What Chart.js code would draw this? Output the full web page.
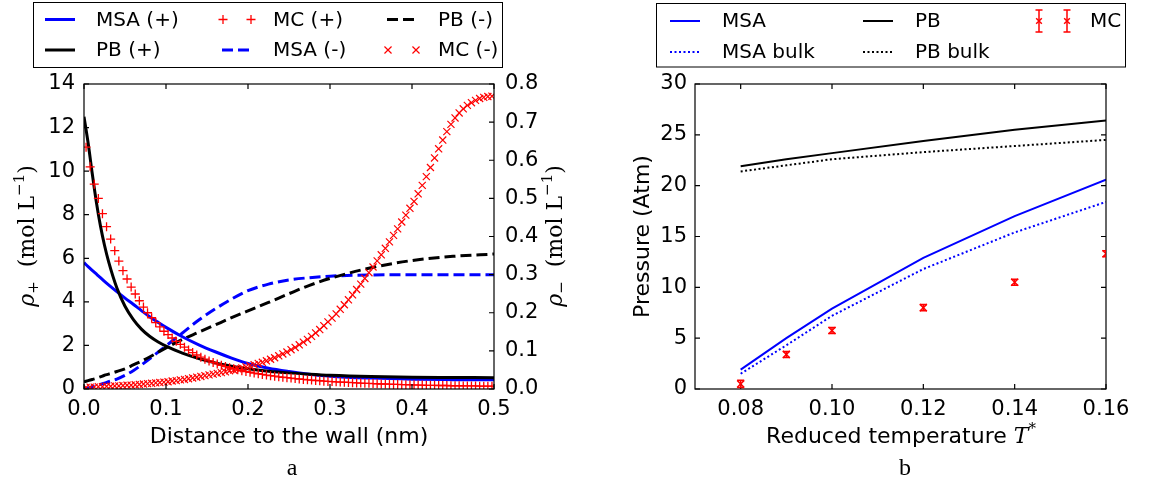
<!DOCTYPE html>
<html>
<head>
<meta charset="utf-8">
<script src="https://cdn.jsdelivr.net/npm/chart.js@4.4.1/dist/chart.umd.min.js"></script>
<style>
  html, body { margin: 0; padding: 0; background: #fff; }
  #wrap { position: relative; width: 1153px; height: 488px; }
  canvas { position: absolute; top: 0; }
  #left { left: 0; }
  #right { left: 576px; }
</style>
</head>
<body>
<div id="wrap">
  <canvas id="left" width="576" height="488"></canvas>
  <canvas id="right" width="577" height="488"></canvas>
</div>
<script>
// ---- Panel a: ion densities next to the wall ----
const distLine = [0, 0.005, 0.01, 0.015, 0.02, 0.025, 0.03, 0.04, 0.05, 0.06, 0.07, 0.08, 0.09, 0.1,
  0.12, 0.14, 0.16, 0.18, 0.2, 0.225, 0.25, 0.275, 0.3, 0.35, 0.4, 0.45, 0.5];
const msaPlus = [5.8, 5.62, 5.45, 5.28, 5.11, 4.94, 4.78, 4.47, 4.17, 3.89, 3.6, 3.32, 3.07, 2.83,
  2.4, 2.03, 1.71, 1.42, 1.17, 0.95, 0.8, 0.68, 0.59, 0.5, 0.45, 0.43, 0.42];
const pbPlus = [12.5, 11.3, 9.9, 8.6, 7.5, 6.6, 5.85, 4.65, 3.8, 3.2, 2.75, 2.42, 2.17, 1.97,
  1.65, 1.4, 1.2, 1.05, 0.93, 0.82, 0.74, 0.68, 0.63, 0.57, 0.54, 0.53, 0.52];
const msaMinus = [0.002, 0.003, 0.006, 0.009, 0.012, 0.015, 0.019, 0.026, 0.036, 0.048, 0.063, 0.079, 0.096, 0.113,
  0.147, 0.181, 0.21, 0.236, 0.258, 0.275, 0.286, 0.292, 0.296, 0.299, 0.3, 0.3, 0.3];
const pbMinus = [0.019, 0.022, 0.025, 0.028, 0.032, 0.036, 0.039, 0.046, 0.053, 0.063, 0.073, 0.084, 0.096, 0.108,
  0.13, 0.149, 0.168, 0.187, 0.205, 0.227, 0.25, 0.272, 0.29, 0.318, 0.337, 0.348, 0.354];

const distMC = [
  0.0025, 0.0075, 0.0125, 0.0175, 0.0225, 0.0275, 0.0325, 0.0375, 0.0425, 0.0475,
  0.0525, 0.0575, 0.0625, 0.0675, 0.0725, 0.0775, 0.0825, 0.0875, 0.0925, 0.0975,
  0.1025, 0.1075, 0.1125, 0.1175, 0.1225, 0.1275, 0.1325, 0.1375, 0.1425, 0.1475,
  0.1525, 0.1575, 0.1625, 0.1675, 0.1725, 0.1775, 0.1825, 0.1875, 0.1925, 0.1975,
  0.2025, 0.2075, 0.2125, 0.2175, 0.2225, 0.2275, 0.2325, 0.2375, 0.2425, 0.2475,
  0.2525, 0.2575, 0.2625, 0.2675, 0.2725, 0.2775, 0.2825, 0.2875, 0.2925, 0.2975,
  0.3025, 0.3075, 0.3125, 0.3175, 0.3225, 0.3275, 0.3325, 0.3375, 0.3425, 0.3475,
  0.3525, 0.3575, 0.3625, 0.3675, 0.3725, 0.3775, 0.3825, 0.3875, 0.3925, 0.3975,
  0.4025, 0.4075, 0.4125, 0.4175, 0.4225, 0.4275, 0.4325, 0.4375, 0.4425, 0.4475,
  0.4525, 0.4575, 0.4625, 0.4675, 0.4725, 0.4775, 0.4825, 0.4875, 0.4925, 0.4975];
const mcPlus = [
  11.1, 10.2, 9.4, 8.75, 8.05, 7.45, 6.88, 6.35, 5.87, 5.43,
  5.05, 4.68, 4.36, 4.05, 3.76, 3.5, 3.27, 3.05, 2.85, 2.65,
  2.5, 2.34, 2.19, 2.05, 1.92, 1.79, 1.67, 1.56, 1.46, 1.37,
  1.29, 1.22, 1.15, 1.09, 1.03, 0.98, 0.93, 0.88, 0.84, 0.8,
  0.77, 0.73, 0.7, 0.67, 0.64, 0.61, 0.59, 0.56, 0.54, 0.52,
  0.5, 0.48, 0.46, 0.44, 0.42, 0.41, 0.39, 0.38, 0.36, 0.35,
  0.34, 0.33, 0.32, 0.31, 0.3, 0.29, 0.28, 0.27, 0.26, 0.26,
  0.25, 0.24, 0.23, 0.23, 0.22, 0.21, 0.21, 0.2, 0.2, 0.19,
  0.19, 0.18, 0.18, 0.17, 0.17, 0.17, 0.16, 0.16, 0.16, 0.15,
  0.15, 0.15, 0.14, 0.14, 0.14, 0.14, 0.13, 0.13, 0.13, 0.13];
const mcMinus = [
  0.004, 0.005, 0.005, 0.006, 0.006, 0.007, 0.007, 0.008, 0.008, 0.009,
  0.01, 0.01, 0.011, 0.012, 0.013, 0.014, 0.015, 0.016, 0.017, 0.018,
  0.019, 0.021, 0.022, 0.024, 0.025, 0.027, 0.029, 0.031, 0.033, 0.035,
  0.037, 0.039, 0.041, 0.043, 0.045, 0.048, 0.05, 0.053, 0.055, 0.058,
  0.061, 0.064, 0.067, 0.07, 0.074, 0.078, 0.082, 0.087, 0.092, 0.097,
  0.103, 0.109, 0.116, 0.123, 0.13, 0.138, 0.147, 0.156, 0.166, 0.176,
  0.186, 0.197, 0.209, 0.221, 0.234, 0.247, 0.261, 0.275, 0.29, 0.305,
  0.32, 0.336, 0.352, 0.369, 0.386, 0.403, 0.42, 0.438, 0.456, 0.474,
  0.492, 0.512, 0.534, 0.557, 0.581, 0.606, 0.63, 0.653, 0.675, 0.694,
  0.711, 0.724, 0.735, 0.744, 0.751, 0.757, 0.762, 0.765, 0.767, 0.768];

const distTicks = [0, 0.1, 0.2, 0.3, 0.4, 0.5];
const rhoPlusTicks = [0, 2, 4, 6, 8, 10, 12, 14];
const rhoMinusTicks = [0, 0.1, 0.2, 0.3, 0.4, 0.5, 0.6, 0.7, 0.8];

// ---- Panel b: pressure against reduced temperature ----
const temps = [0.08, 0.09, 0.10, 0.12, 0.14, 0.16];
const msaP = [1.9, 5.0, 7.9, 12.9, 17.0, 20.6];
const msaBulkP = [1.5, 4.3, 7.2, 11.8, 15.4, 18.4];
const pbP = [21.9, 22.6, 23.2, 24.4, 25.5, 26.4];
const pbBulkP = [21.4, 22.0, 22.6, 23.3, 23.9, 24.5];
const mcP = [0.5, 3.4, 5.75, 8.0, 10.5, 13.3];
const mcErr = [0.35, 0.3, 0.3, 0.3, 0.3, 0.3];

const tempTicks = [0.08, 0.10, 0.12, 0.14, 0.16];
const pressureTicks = [0, 5, 10, 15, 20, 25, 30];

const RED = '#ff0000', BLUE = '#0000ff', BLACK = '#000000';

Chart.defaults.font.family = '"DejaVu Sans", sans-serif';
Chart.defaults.color = '#000';

function pts(xs, ys) {
  return xs.map((x, i) => ({ x: x, y: ys[i] }));
}

function fixedTicks(list) {
  return scale => { scale.ticks = list.map(v => ({ value: v })); };
}

// frame round the plot area with inward ticks on every side
const framePlugin = {
  id: 'frame',
  afterDatasetsDraw(chart, args, opts) {
    const { ctx, chartArea: a, scales } = chart;
    const L = 5;
    ctx.save();
    ctx.strokeStyle = '#000';
    ctx.lineWidth = 1.2;
    ctx.setLineDash([]);
    ctx.strokeRect(a.left, a.top, a.right - a.left, a.bottom - a.top);
    ctx.beginPath();
    scales.x.ticks.forEach(t => {
      const px = scales.x.getPixelForValue(t.value);
      ctx.moveTo(px, a.bottom); ctx.lineTo(px, a.bottom - L);
      ctx.moveTo(px, a.top); ctx.lineTo(px, a.top + L);
    });
    scales.y.ticks.forEach(t => {
      const py = scales.y.getPixelForValue(t.value);
      ctx.moveTo(a.left, py); ctx.lineTo(a.left + L, py);
      if (opts.mirrorY) { ctx.moveTo(a.right, py); ctx.lineTo(a.right - L, py); }
    });
    if (scales.y2) {
      scales.y2.ticks.forEach(t => {
        const py = scales.y2.getPixelForValue(t.value);
        ctx.moveTo(a.right, py); ctx.lineTo(a.right - L, py);
      });
    }
    ctx.stroke();
    ctx.restore();
  }
};

// vertical error bars with caps for one dataset
const errorBarPlugin = {
  id: 'errorBars',
  afterDatasetsDraw(chart, args, opts) {
    if (!opts.errors) return;
    const { ctx, chartArea: a, scales } = chart;
    const ds = chart.data.datasets[opts.datasetIndex];
    ctx.save();
    ctx.beginPath();
    ctx.rect(a.left, a.top, a.right - a.left, a.bottom - a.top);
    ctx.clip();
    ctx.strokeStyle = ds.pointBorderColor;
    ctx.lineWidth = 1.5;
    ctx.beginPath();
    ds.data.forEach((p, i) => {
      const px = scales.x.getPixelForValue(p.x);
      const lo = scales.y.getPixelForValue(p.y - opts.errors[i]);
      const hi = scales.y.getPixelForValue(p.y + opts.errors[i]);
      ctx.moveTo(px, lo); ctx.lineTo(px, hi);
      ctx.moveTo(px - 3.5, lo); ctx.lineTo(px + 3.5, lo);
      ctx.moveTo(px - 3.5, hi); ctx.lineTo(px + 3.5, hi);
    });
    ctx.stroke();
    ctx.restore();
  }
};

// draws a mixed roman / italic / sub / sup label
function drawMath(ctx, parts, cx, cy, size, rotate) {
  const fontOf = p => {
    const small = p.s === 'sub' || p.s === 'sup';
    const fam = p.f || '"DejaVu Serif"';
    return (p.s === 'i' ? 'italic ' : '') + Math.round(small ? size * 0.7 : size) + 'px ' + fam;
  };
  ctx.save();
  ctx.translate(cx, cy);
  if (rotate) ctx.rotate(-Math.PI / 2);
  ctx.fillStyle = '#000';
  ctx.textBaseline = 'middle';
  ctx.textAlign = 'left';
  let total = 0;
  const widths = parts.map(p => { ctx.font = fontOf(p); const w = ctx.measureText(p.t).width; total += w; return w; });
  let x = -total / 2;
  parts.forEach((p, i) => {
    ctx.font = fontOf(p);
    const dy = p.s === 'sub' ? size * 0.28 : p.s === 'sup' ? -size * 0.36 : 0;
    ctx.fillText(p.t, x, dy);
    x += widths[i];
  });
  ctx.restore();
}

const labelsPlugin = {
  id: 'extraLabels',
  afterDraw(chart, args, opts) {
    const ctx = chart.ctx;
    (opts.math || []).forEach(m => drawMath(ctx, m.parts, m.x, m.y, m.size, m.rotate));
    if (opts.tag) {
      ctx.save();
      ctx.font = '24px "Liberation Serif", serif';
      ctx.fillStyle = '#000';
      ctx.textAlign = 'center';
      ctx.textBaseline = 'middle';
      ctx.fillText(opts.tag.text, opts.tag.x, opts.tag.y);
      ctx.restore();
    }
  }
};

// matplotlib-like boxed legend, laid out in columns
const boxLegendPlugin = {
  id: 'boxLegend',
  afterDraw(chart, args, opts) {
    const ctx = chart.ctx;
    const [bx, by, bw, bh] = opts.box;
    ctx.save();
    ctx.strokeStyle = '#000';
    ctx.lineWidth = 1;
    ctx.strokeRect(bx, by, bw, bh);
    ctx.font = '20px "DejaVu Sans"';
    ctx.textBaseline = 'middle';
    ctx.textAlign = 'left';
    opts.items.forEach(it => {
      const y = opts.rows[it.row];
      const x0 = opts.cols[it.col];
      const x1 = x0 + opts.sample;
      if (it.kind === 'line') {
        ctx.beginPath();
        ctx.setLineDash(it.dash || []);
        ctx.strokeStyle = it.color;
        ctx.lineWidth = it.width;
        ctx.moveTo(x0, y); ctx.lineTo(x1, y);
        ctx.stroke();
        ctx.setLineDash([]);
      } else {
        [x0 + 1, x1 - 1].forEach(px => {
          ctx.strokeStyle = it.color;
          ctx.fillStyle = it.color;
          if (it.err) {
            ctx.beginPath();
            ctx.lineWidth = 1.5;
            ctx.moveTo(px, y - it.err); ctx.lineTo(px, y + it.err);
            ctx.moveTo(px - 3.5, y - it.err); ctx.lineTo(px + 3.5, y - it.err);
            ctx.moveTo(px - 3.5, y + it.err); ctx.lineTo(px + 3.5, y + it.err);
            ctx.stroke();
          }
          ctx.lineWidth = it.lw;
          Chart.helpers.drawPoint(ctx, {
            pointStyle: it.style, radius: it.radius, borderWidth: it.lw
          }, px, y);
        });
      }
      ctx.fillStyle = '#000';
      ctx.fillText(it.text, x0 + opts.textGap, y + 1);
    });
    ctx.restore();
  }
};

const tickFont = { size: 21 };

// ---------- Panel a ----------
new Chart(document.getElementById('left').getContext('2d'), {
  type: 'scatter',
  data: {
    datasets: [
      { label: 'MC (+)', data: pts(distMC, mcPlus), yAxisID: 'y', showLine: false,
        pointStyle: 'cross', pointRadius: 4.5, pointBorderWidth: 1.3,
        pointBorderColor: RED, pointBackgroundColor: RED },
      { label: 'MC (-)', data: pts(distMC, mcMinus), yAxisID: 'y2', showLine: false,
        pointStyle: 'crossRot', pointRadius: 5, pointBorderWidth: 1.2,
        pointBorderColor: RED, pointBackgroundColor: RED },
      { label: 'PB (+)', data: pts(distLine, pbPlus), yAxisID: 'y', showLine: true,
        borderColor: BLACK, borderWidth: 3, pointRadius: 0, cubicInterpolationMode: 'monotone' },
      { label: 'MSA (+)', data: pts(distLine, msaPlus), yAxisID: 'y', showLine: true,
        borderColor: BLUE, borderWidth: 3, pointRadius: 0, cubicInterpolationMode: 'monotone' },
      { label: 'PB (-)', data: pts(distLine, pbMinus), yAxisID: 'y2', showLine: true,
        borderColor: BLACK, borderWidth: 3, borderDash: [11, 5], pointRadius: 0, cubicInterpolationMode: 'monotone' },
      { label: 'MSA (-)', data: pts(distLine, msaMinus), yAxisID: 'y2', showLine: true,
        borderColor: BLUE, borderWidth: 3, borderDash: [11, 5], pointRadius: 0, cubicInterpolationMode: 'monotone' }
    ]
  },
  options: {
    responsive: false,
    animation: false,
    devicePixelRatio: 1,
    layout: { padding: { top: 84, left: 0, right: 0, bottom: 0 } },
    plugins: {
      legend: { display: false },
      tooltip: { enabled: false },
      frame: { mirrorY: false },
      extraLabels: {
        math: [
          { parts: [{ t: 'ρ', s: 'i' }, { t: '+', s: 'sub' }, { t: '  (mol L', s: 'r' }, { t: '−1', s: 'sup' }, { t: ')', s: 'r' }],
            x: 28, y: 236, size: 22, rotate: true },
          { parts: [{ t: 'ρ', s: 'i' }, { t: '−', s: 'sub' }, { t: '  (mol L', s: 'r' }, { t: '−1', s: 'sup' }, { t: ')', s: 'r' }],
            x: 556, y: 236, size: 22, rotate: true }
        ],
        tag: { text: 'a', x: 292, y: 469 }
      },
      boxLegend: {
        box: [33.5, 2.5, 469, 65],
        rows: [19.5, 50],
        cols: [45, 222, 387],
        sample: 30,
        textGap: 51,
        items: [
          { row: 0, col: 0, kind: 'line', color: BLUE, width: 3, text: 'MSA (+)' },
          { row: 1, col: 0, kind: 'line', color: BLACK, width: 3, text: 'PB (+)' },
          { row: 0, col: 1, kind: 'marker', style: 'cross', radius: 4.5, lw: 1.3, color: RED, text: 'MC (+)' },
          { row: 1, col: 1, kind: 'line', color: BLUE, width: 3, dash: [11, 5], text: 'MSA (-)' },
          { row: 0, col: 2, kind: 'line', color: BLACK, width: 3, dash: [11, 5], text: 'PB (-)' },
          { row: 1, col: 2, kind: 'marker', style: 'crossRot', radius: 5, lw: 1.2, color: RED, text: 'MC (-)' }
        ]
      }
    },
    scales: {
      x: {
        type: 'linear', min: 0, max: 0.5,
        afterBuildTicks: fixedTicks(distTicks),
        afterFit: s => { s.height = 99; },
        grid: { display: false, drawTicks: false },
        border: { display: false },
        ticks: { font: tickFont, padding: 8, callback: v => v.toFixed(1) },
        title: { display: true, text: 'Distance to the wall (nm)', font: { size: 22 }, padding: { top: 0, bottom: 38 } }
      },
      y: {
        type: 'linear', position: 'left', min: 0, max: 14,
        afterBuildTicks: fixedTicks(rhoPlusTicks),
        afterFit: s => { s.width = 84; },
        grid: { display: false, drawTicks: false },
        border: { display: false },
        ticks: { font: tickFont, padding: 9 }
      },
      y2: {
        type: 'linear', position: 'right', min: 0, max: 0.8,
        afterBuildTicks: fixedTicks(rhoMinusTicks),
        afterFit: s => { s.width = 82; },
        grid: { display: false, drawTicks: false },
        border: { display: false },
        ticks: { font: tickFont, padding: 11, callback: v => v.toFixed(1) }
      }
    }
  },
  plugins: [framePlugin, labelsPlugin, boxLegendPlugin]
});

// ---------- Panel b ----------
new Chart(document.getElementById('right').getContext('2d'), {
  type: 'scatter',
  data: {
    datasets: [
      { label: 'MC', data: pts(temps, mcP), showLine: false,
        pointStyle: 'crossRot', pointRadius: 5, pointBorderWidth: 1.5,
        pointBorderColor: RED, pointBackgroundColor: RED },
      { label: 'MSA', data: pts(temps, msaP), showLine: true,
        borderColor: BLUE, borderWidth: 2, pointRadius: 0 },
      { label: 'MSA bulk', data: pts(temps, msaBulkP), showLine: true,
        borderColor: BLUE, borderWidth: 2, borderDash: [2, 2.5], pointRadius: 0 },
      { label: 'PB', data: pts(temps, pbP), showLine: true,
        borderColor: BLACK, borderWidth: 2, pointRadius: 0 },
      { label: 'PB bulk', data: pts(temps, pbBulkP), showLine: true,
        borderColor: BLACK, borderWidth: 2, borderDash: [2, 2.5], pointRadius: 0 }
    ]
  },
  options: {
    responsive: false,
    animation: false,
    devicePixelRatio: 1,
    layout: { padding: { top: 84, left: 0, right: 47, bottom: 0 } },
    plugins: {
      legend: { display: false },
      tooltip: { enabled: false },
      frame: { mirrorY: true },
      errorBars: { datasetIndex: 0, errors: mcErr },
      extraLabels: {
        math: [
          { parts: [{ t: 'Reduced temperature ', s: 'r', f: '"DejaVu Sans"' }, { t: 'T', s: 'i' }, { t: '*', s: 'sup' }],
            x: 325, y: 437, size: 22, rotate: false }
        ],
        tag: { text: 'b', x: 329, y: 469 }
      },
      boxLegend: {
        box: [80.5, 3.5, 469, 63.5],
        rows: [21, 52],
        cols: [94, 287, 462],
        sample: 30,
        textGap: 52,
        items: [
          { row: 0, col: 0, kind: 'line', color: BLUE, width: 2, text: 'MSA' },
          { row: 1, col: 0, kind: 'line', color: BLUE, width: 2, dash: [2, 2.5], text: 'MSA bulk' },
          { row: 0, col: 1, kind: 'line', color: BLACK, width: 2, text: 'PB' },
          { row: 1, col: 1, kind: 'line', color: BLACK, width: 2, dash: [2, 2.5], text: 'PB bulk' },
          { row: 0, col: 2, kind: 'marker', style: 'crossRot', radius: 4, lw: 1.5, err: 11, color: RED, text: 'MC' }
        ]
      }
    },
    scales: {
      x: {
        type: 'linear', min: 0.07, max: 0.16,
        afterBuildTicks: fixedTicks(tempTicks),
        afterFit: s => { s.height = 99; },
        grid: { display: false, drawTicks: false },
        border: { display: false },
        ticks: { font: tickFont, padding: 8, callback: v => v.toFixed(2) }
      },
      y: {
        type: 'linear', position: 'left', min: 0, max: 30,
        afterBuildTicks: fixedTicks(pressureTicks),
        afterFit: s => { s.width = 119; },
        grid: { display: false, drawTicks: false },
        border: { display: false },
        ticks: { font: tickFont, padding: 8 },
        title: { display: true, text: 'Pressure (Atm)', font: { size: 22 }, padding: { top: 54, bottom: 0 } }
      }
    }
  },
  plugins: [framePlugin, errorBarPlugin, labelsPlugin, boxLegendPlugin]
});
</script>
</body>
</html>
